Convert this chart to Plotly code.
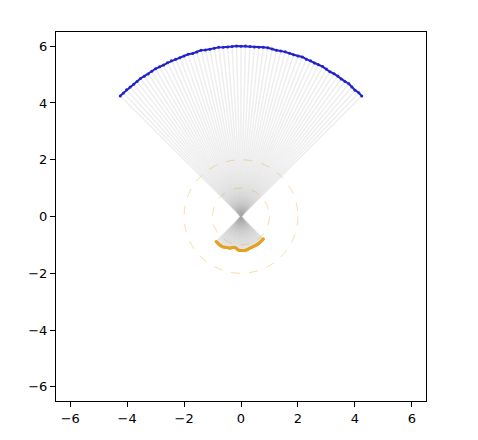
import plotly.graph_objects as go
import numpy as np

# angles (degrees) of the outer (blue) samples
angles_deg = [45.0, 46.5, 48.0, 49.5, 51.0, 52.5, 54.0, 55.5, 57.0, 58.5, 60.0, 61.5, 63.0, 64.5, 66.0,
              67.5, 69.0, 70.5, 72.0, 73.5, 75.0, 76.5, 78.0, 79.5, 81.0, 82.5, 84.0, 85.5, 87.0, 88.5,
              90.0, 91.5, 93.0, 94.5, 96.0, 97.5, 99.0, 100.5, 102.0, 103.5, 105.0, 106.5, 108.0, 109.5,
              111.0, 112.5, 114.0, 115.5, 117.0, 118.5, 120.0, 121.5, 123.0, 124.5, 126.0, 127.5, 129.0,
              130.5, 132.0, 133.5, 135.0]
blue_r = [6.00, 6.01, 5.99, 6.00, 6.02, 6.00, 5.99, 6.01, 6.00, 5.98, 6.00, 6.01, 6.00, 5.99, 6.01,
          6.00, 6.02, 6.00, 5.99, 6.00, 6.01, 6.00, 5.99, 6.00, 6.02, 6.01, 6.00, 5.99, 6.00, 6.01,
          6.00, 6.01, 6.00, 5.99, 6.00, 6.01, 6.00, 5.99, 6.00, 6.02, 6.00, 5.99, 6.01, 6.00, 5.99,
          6.00, 6.01, 6.00, 5.99, 6.00, 6.01, 6.00, 5.99, 6.00, 6.01, 6.00, 5.99, 6.00, 6.01, 6.00, 6.00]
# inner (orange) samples lie opposite each blue sample
orange_r = [1.24, 1.24, 1.245, 1.25, 1.25, 1.25, 1.25, 1.25, 1.25, 1.245, 1.24, 1.23, 1.22, 1.21, 1.20,
            1.195, 1.19, 1.185, 1.17, 1.15, 1.13, 1.12, 1.11, 1.115, 1.13, 1.15, 1.17, 1.18, 1.19, 1.195,
            1.20, 1.20, 1.20, 1.20, 1.20, 1.20, 1.195, 1.19, 1.18, 1.17, 1.16, 1.155, 1.15, 1.15,
            1.145, 1.145, 1.14, 1.14, 1.14, 1.14, 1.14, 1.14, 1.135, 1.13, 1.13, 1.125, 1.12,
            1.12, 1.115, 1.11, 1.11]
circle_radii = [1, 2]
tick_vals = [-6, -4, -2, 0, 2, 4, 6]
tick_text = ["\u22126", "\u22124", "\u22122", "0", "2", "4", "6"]

th = np.radians(angles_deg)
bx = np.array(blue_r) * np.cos(th)
by = np.array(blue_r) * np.sin(th)
ox = -np.array(orange_r) * np.cos(th)
oy = -np.array(orange_r) * np.sin(th)

lx, ly = [], []
for i in range(len(th)):
    lx += [bx[i], ox[i], None]
    ly += [by[i], oy[i], None]

fig = go.Figure()
fig.add_trace(go.Scatter(x=lx, y=ly, mode="lines",
                         line=dict(color="rgba(170,170,170,0.2)", width=1.5),
                         hoverinfo="skip", showlegend=False))
fig.add_trace(go.Scatter(x=ox, y=oy, mode="lines+markers",
                         line=dict(color="#E6A020", width=2.5),
                         marker=dict(color="#E6A020", size=3), showlegend=False))
fig.add_trace(go.Scatter(x=bx, y=by, mode="lines+markers",
                         line=dict(color="#2222CC", width=2),
                         marker=dict(color="#2222CC", size=3), showlegend=False))

for r in circle_radii:
    fig.add_shape(type="circle", xref="x", yref="y", x0=-r, y0=-r, x1=r, y1=r,
                  line=dict(color="rgba(240,180,60,0.45)", width=1, dash="dash"), layer="below")

axis_common = dict(range=[-6.5, 6.5], tickvals=tick_vals, ticktext=tick_text,
                   ticks="outside", ticklen=5, tickwidth=1, tickcolor="black",
                   showgrid=False, zeroline=False, showline=True, linecolor="black",
                   linewidth=1, mirror=True, tickfont=dict(family="DejaVu Sans", size=13, color="black"))
fig.update_layout(width=470, height=432, margin=dict(l=48, r=52, t=24, b=39),
                  plot_bgcolor="white", paper_bgcolor="white",
                  xaxis=axis_common, yaxis=axis_common)
fig.write_html("out.html")
